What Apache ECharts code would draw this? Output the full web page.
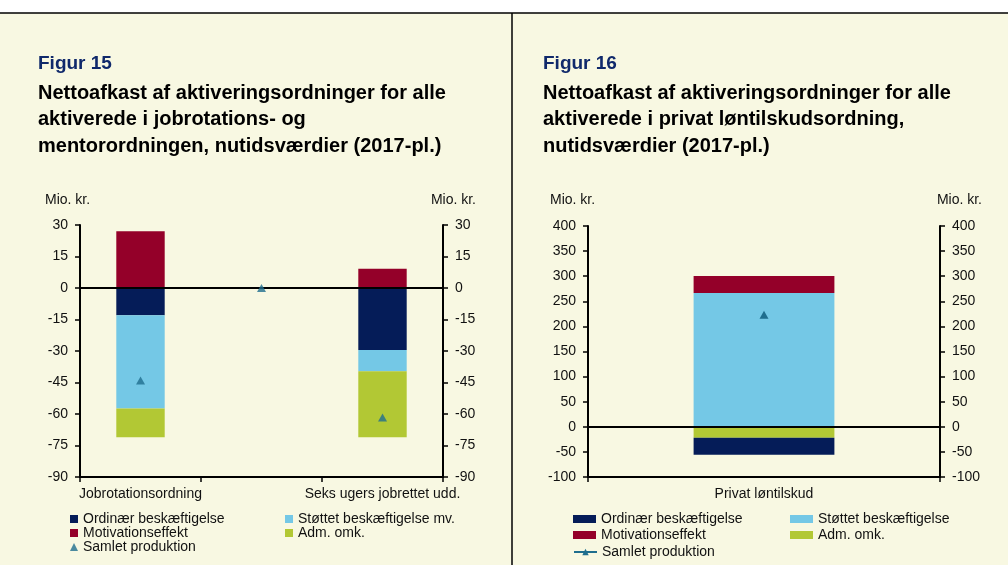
<!DOCTYPE html>
<html>
<head>
<meta charset="utf-8">
<script src="https://cdn.jsdelivr.net/npm/echarts@6/dist/echarts.min.js"></script>
<style>
html,body{margin:0;padding:0;background:#fff;}
#c{width:1008px;height:565px;}
</style>
</head>
<body>
<div id="c"></div>
<script>
// ---- Data (Figur 15) ----
const leftCategories = ['Jobrotationsordning', '', 'Seks ugers jobrettet udd.'];
const leftOrdinaer   = [-13.0, null, -29.5];
const leftStoettet   = [-44.4, null, -10.2];
const leftAdm        = [-13.7, null, -31.4];
const leftMotivation = [27.0, null, 9.2];
const leftSamlet     = [-44.1, 0, -61.7];
const leftAxis = {min: -90, max: 30, interval: 15};

// ---- Data (Figur 16) ----
const rightCategories = ['Privat løntilskud'];
const rightOrdinaer   = [-33.8];
const rightStoettet   = [266.4];
const rightAdm        = [-21.9];
const rightMotivation = [33.8];
const rightSamlet     = [223];
const rightAxis = {min: -100, max: 400, interval: 50};

const C_NAVY = '#051C58', C_RED = '#940029', C_BLUE = '#74C8E6', C_LIME = '#B2C834', C_TRI = '#1F6E8E';
const FONT = 'Liberation Sans, Arial, sans-serif';

const chart = echarts.init(document.getElementById('c'), null, {renderer: 'canvas'});

function yAx(gridIndex, pos, cfg) {
  return {
    type: 'value', gridIndex, position: pos,
    min: cfg.min, max: cfg.max, interval: cfg.interval,
    axisLine: {show: true, lineStyle: {color: '#000', width: 2}},
    axisTick: {show: true, length: 5, lineStyle: {color: '#000', width: 1.5}},
    axisLabel: {color: '#111', fontSize: 14, fontFamily: FONT, margin: 12},
    splitLine: {show: false}
  };
}
function xAx(gridIndex, cats) {
  return {
    type: 'category', gridIndex, data: cats, boundaryGap: true,
    axisLine: {show: true, onZero: false, lineStyle: {color: '#000', width: 2}},
    axisTick: {show: true, length: 5, interval: 0, alignWithLabel: false, lineStyle: {color: '#000', width: 1.5}},
    axisLabel: {color: '#111', fontSize: 14, fontFamily: FONT, margin: 10, interval: 0}
  };
}
const zeroLine = {
  silent: true, symbol: 'none', label: {show: false},
  lineStyle: {color: '#000', width: 2, type: 'solid'},
  data: [{yAxis: 0}]
};
function bar(name, data, color, xi, yi, stack, extra) {
  return Object.assign({
    name, type: 'bar', data, stack, xAxisIndex: xi, yAxisIndex: yi,
    barWidth: '40%', itemStyle: {color}, emphasis: {disabled: true}
  }, extra || {});
}
function leg(name, left, top, w, h, icon) {
  return {
    data: [icon ? {name, icon} : name], left, top, padding: 0, itemWidth: w, itemHeight: h,
    selectedMode: false, textStyle: {fontSize: 14, fontFamily: FONT, color: '#111'}
  };
}
const titleNavy = {color: '#10296B', fontSize: 19, fontWeight: 'bold', fontFamily: FONT};
const titleBlack = {color: '#000', fontSize: 20, fontWeight: 'bold', fontFamily: FONT, lineHeight: 26.5};
const txt = (x, y, text, align) => ({type: 'text', x, y, style: {text, fill: '#111', font: '14px ' + FONT, align: align || 'left', verticalAlign: 'middle'}});

chart.setOption({
  backgroundColor: '#fff',
  animation: false,
  graphic: [
    {type: 'rect', shape: {x: 0, y: 13, width: 1008, height: 552}, style: {fill: '#F8F8E2'}, z: -10},
    {type: 'line', shape: {x1: 0, y1: 13, x2: 1008, y2: 13}, style: {stroke: '#000', lineWidth: 1.5}},
    {type: 'line', shape: {x1: 512, y1: 13, x2: 512, y2: 565}, style: {stroke: '#000', lineWidth: 1.5}},
    txt(45, 200, 'Mio. kr.'), txt(476, 200, 'Mio. kr.', 'right'),
    txt(550, 200, 'Mio. kr.'), txt(982, 200, 'Mio. kr.', 'right')
  ],
  title: [
    {text: 'Figur 15', left: 38, top: 54, padding: 0, textStyle: titleNavy},
    {text: 'Nettoafkast af aktiveringsordninger for alle\naktiverede i jobrotations- og\nmentorordningen, nutidsværdier (2017-pl.)', left: 38, top: 80, padding: 0, textStyle: titleBlack},
    {text: 'Figur 16', left: 543, top: 54, padding: 0, textStyle: titleNavy},
    {text: 'Nettoafkast af aktiveringsordninger for alle\naktiverede i privat løntilskudsordning,\nnutidsværdier (2017-pl.)', left: 543, top: 80, padding: 0, textStyle: titleBlack}
  ],
  grid: [
    {left: 80, right: 565, top: 225, bottom: 88},
    {left: 588, right: 68, top: 226, bottom: 88}
  ],
  xAxis: [xAx(0, leftCategories), xAx(1, rightCategories)],
  yAxis: [yAx(0, 'left', leftAxis), yAx(0, 'right', leftAxis), yAx(1, 'left', rightAxis), yAx(1, 'right', rightAxis)],
  legend: [
    leg('Ordinær beskæftigelse', 70, 512, 8, 8, 'rect'),
    leg('Støttet beskæftigelse mv.', 285, 512, 8, 8, 'rect'),
    leg('Motivationseffekt', 70, 526, 8, 8, 'rect'),
    leg('Adm. omk.', 285, 526, 8, 8, 'rect'),
    leg('Samlet produktion ', 70, 540, 8, 8, 'triangle'),
    leg('Ordinær beskæftigelse', 573, 512, 23, 8, 'rect'),
    leg('Støttet beskæftigelse', 790, 512, 23, 8, 'rect'),
    leg('Motivationseffekt', 573, 528, 23, 8, 'rect'),
    leg('Adm. omk.', 790, 528, 23, 8, 'rect'),
    leg('Samlet produktion', 573, 545, 23, 8)
  ],
  series: [
    bar('Ordinær beskæftigelse', leftOrdinaer, C_NAVY, 0, 0, 'L', {markLine: zeroLine}),
    bar('Støttet beskæftigelse mv.', leftStoettet, C_BLUE, 0, 0, 'L'),
    bar('Adm. omk.', leftAdm, C_LIME, 0, 0, 'L'),
    bar('Motivationseffekt', leftMotivation, C_RED, 0, 0, 'L'),
    {name: 'Samlet produktion ', type: 'scatter', data: leftSamlet, xAxisIndex: 0, yAxisIndex: 0,
     symbol: 'triangle', symbolSize: [9, 8], itemStyle: {color: C_TRI}, z: 5},
    bar('Støttet beskæftigelse', rightStoettet, C_BLUE, 1, 2, 'R', {markLine: zeroLine}),
    bar('Motivationseffekt', rightMotivation, C_RED, 1, 2, 'R'),
    bar('Adm. omk.', rightAdm, C_LIME, 1, 2, 'R'),
    bar('Ordinær beskæftigelse', rightOrdinaer, C_NAVY, 1, 2, 'R'),
    {name: 'Samlet produktion', type: 'line', data: rightSamlet, xAxisIndex: 1, yAxisIndex: 2,
     symbol: 'triangle', symbolSize: [9, 8], itemStyle: {color: C_TRI}, lineStyle: {color: C_TRI, width: 1.5}, z: 5}
  ]
});
</script>
</body>
</html>
